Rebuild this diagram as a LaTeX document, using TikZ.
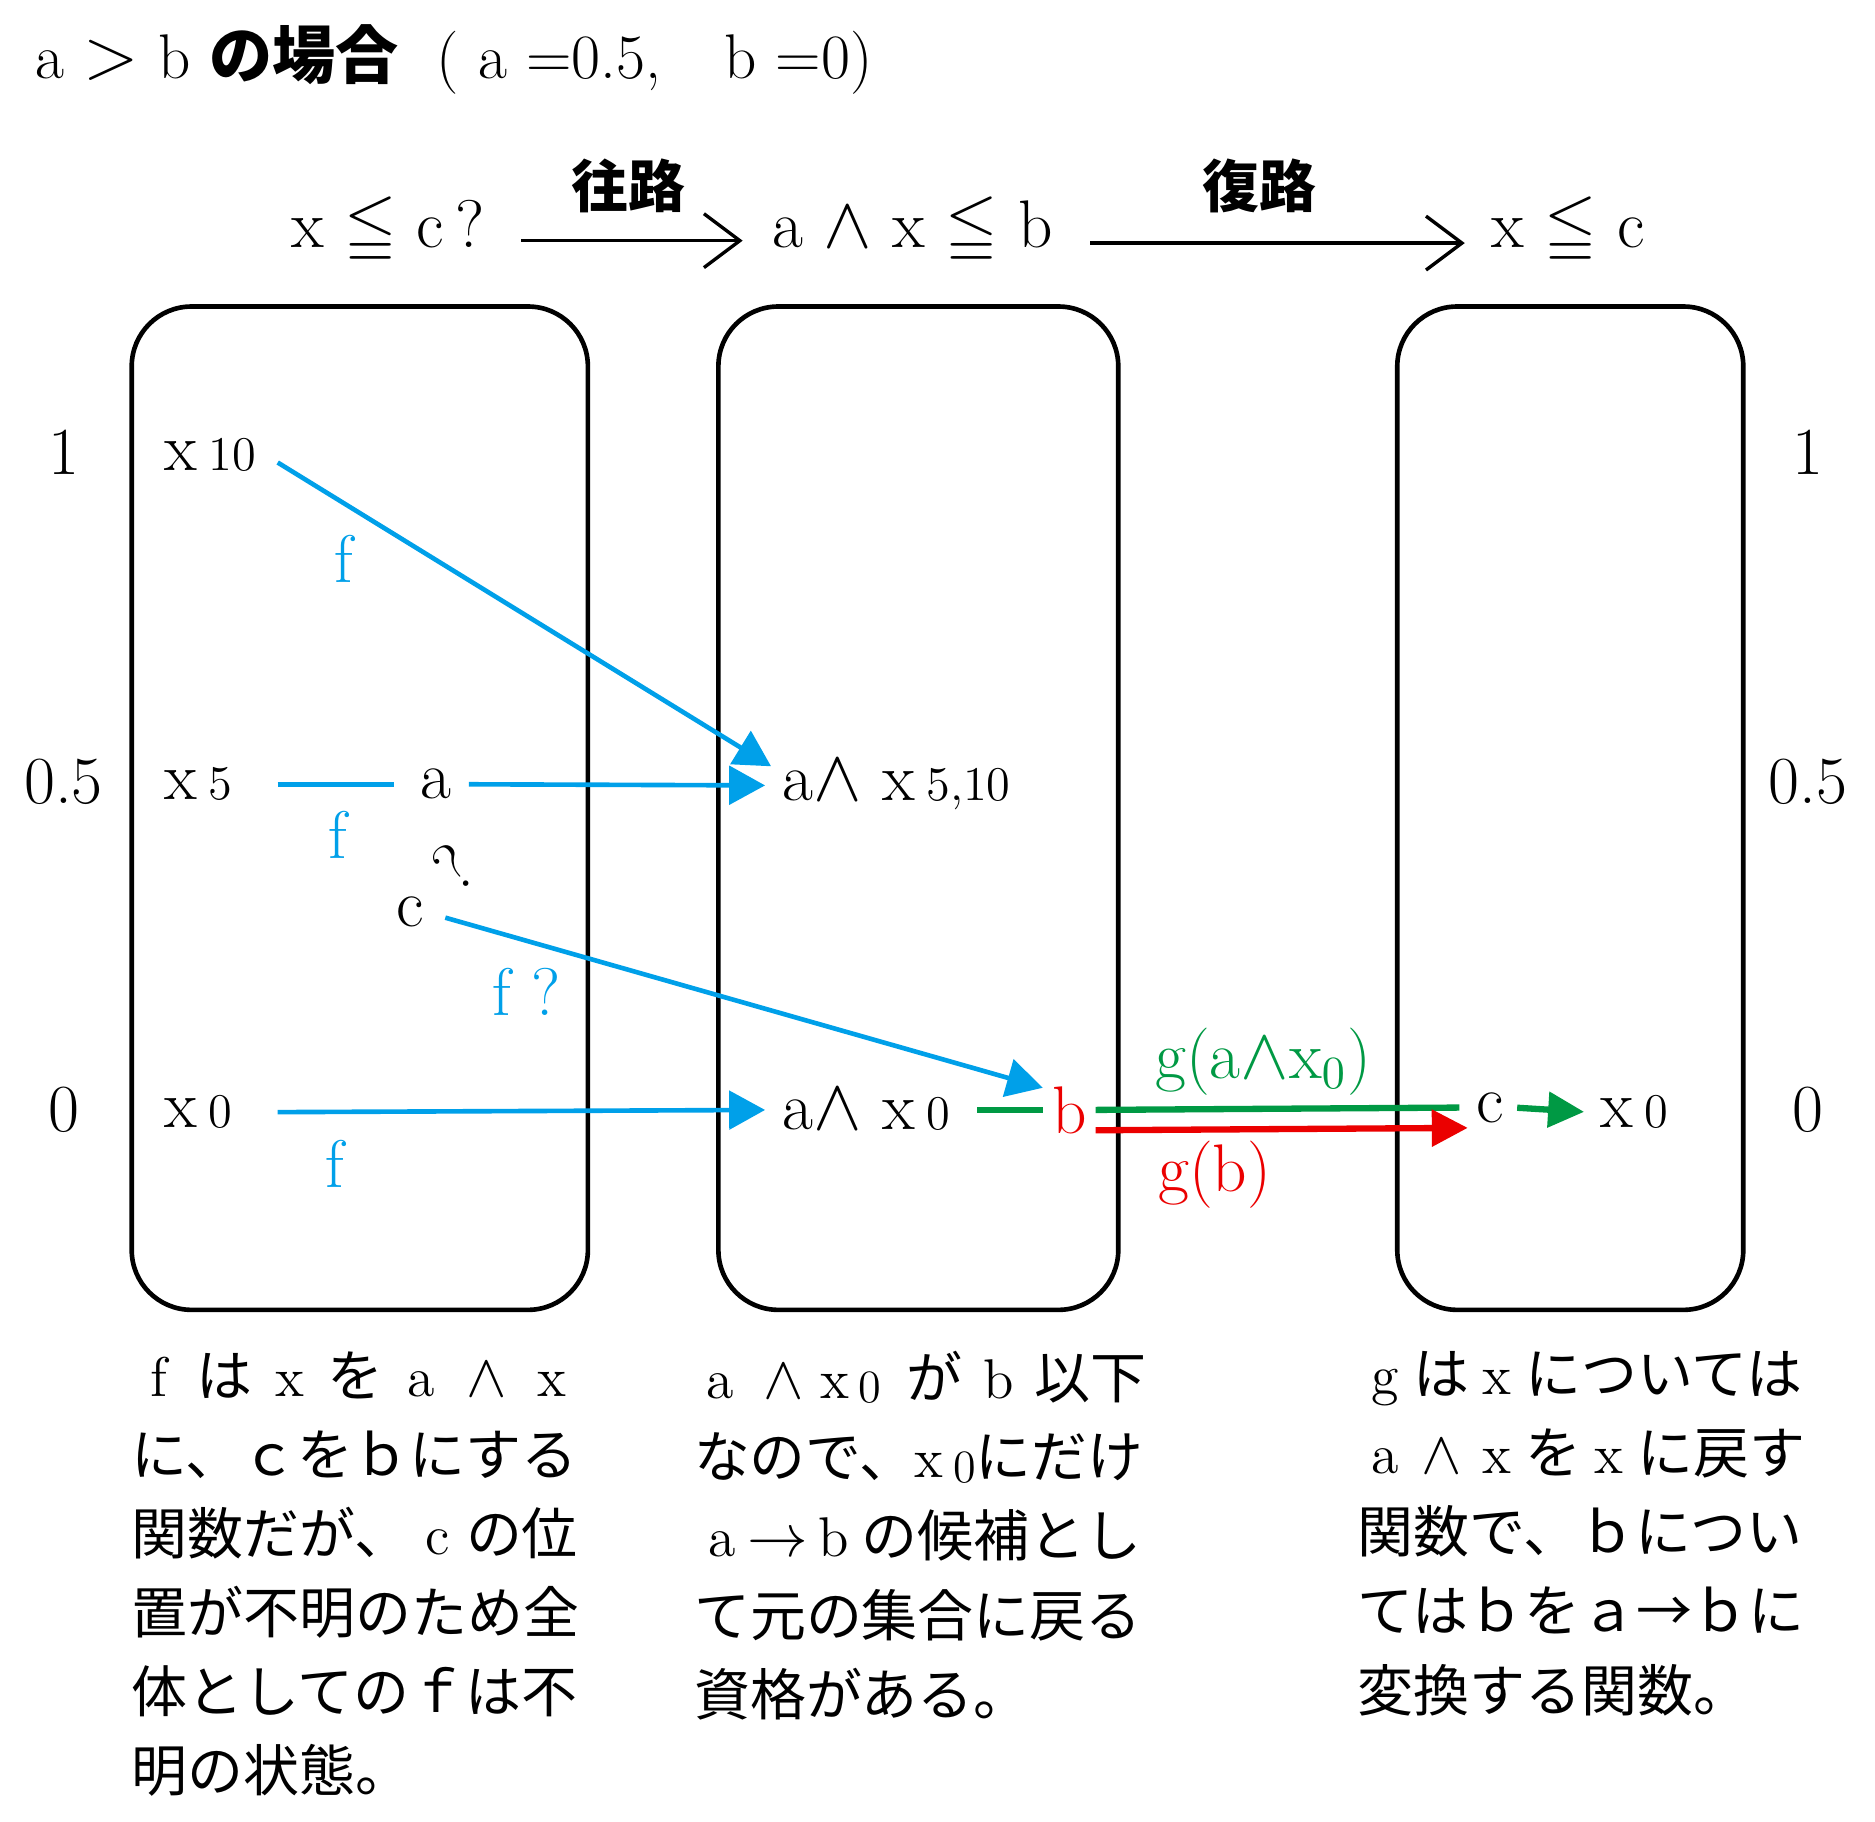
\documentclass[tikz,border=0pt]{standalone}
\usepackage{amssymb}
\usepackage{graphicx}
\usepackage{fontspec}
\newfontfamily\jp{Noto Sans CJK JP}
\usetikzlibrary{arrows.meta,positioning}
\definecolor{fblue}{RGB}{0,160,233}
\definecolor{ggreen}{RGB}{0,153,68}
\definecolor{gred}{RGB}{235,0,0}
\newcommand\lab{\fontsize{16}{19}\selectfont}
\newcommand\sub[1]{{\fontsize{11.5}{14}\selectfont #1}}
\newcommand\jl[2][3.75cm]{\makebox[#1][s]{#2}}
\newcommand\cel[1]{\makebox[1em]{\rmfamily #1}}
\newcommand\zer{\raisebox{-1pt}{\rmfamily\fontsize{11}{12}\selectfont 0}}

\begin{document}
\begin{tikzpicture}[
  setbox/.style={draw, line width=1.1pt, rounded corners=0.5cm},
  lab/.style={font=\lab, inner sep=2pt},
  fmap/.style={draw=fblue, line width=1.1pt, -{Triangle[length=0.3cm,width=0.32cm]}},
  route/.style={draw, line width=0.8pt, -{Straight Barb[length=0.3cm,width=0.45cm]}},
  note/.style={font=\jp\fontsize{13.3}{18.8}\selectfont, align=left, inner sep=0pt, anchor=north west}
]
  \path[use as bounding box, fill=white] (0,0) rectangle (15.66,-15.21);

  % title
  \node[lab, anchor=west, font=\fontsize{15}{18}\selectfont] (title) at (0.22,-0.50)
    {a\ \scalebox{1.2}{$>$}\ b\ {\jp\bfseries の場合}\ \ (\ a\ =0.5,\quad b\ =0)};

  % conditions and routes
  \node[lab] (q1) at (3.24,-1.93) {x\ $\leqq$\ c\,?};
  \node[lab] (q2) at (7.62,-1.93) {a\ $\wedge$\ x\ $\leqq$\ b};
  \node[lab] (q3) at (13.10,-1.93) {x\ $\leqq$\ c};
  \draw[route, shorten <=0.23cm, shorten >=0.17cm] ([yshift=-0.08cm]q1.east) -- ([yshift=-0.08cm]q2.west)
    node[midway, above=0.1cm, font=\jp\bfseries\fontsize{13.5}{16}\selectfont] (go) {往路};
  \draw[route, shorten <=0.24cm, shorten >=0.15cm] ([yshift=-0.1cm]q2.east) -- ([yshift=-0.1cm]q3.west)
    node[pos=0.47, above=0.12cm, font=\jp\bfseries\fontsize{13.5}{16}\selectfont] (back) {復路};

  % sets
  \draw[setbox] (1.10,-2.56) rectangle (4.91,-10.94);
  \draw[setbox] (6.00,-2.56) rectangle (9.34,-10.94);
  \draw[setbox] (11.67,-2.56) rectangle (14.56,-10.94);

  % levels
  \foreach \y/\v [count=\i] in {-3.78/1, -6.53/0.5, -9.27/0} {
    \node[lab] (lv\i) at (0.53,\y) {\v};
    \node[lab] (rv\i) at (15.10,\y) {\v};
  }

  % first set
  \node[lab, anchor=west] (x10) at (1.30,-3.80) {x\,\sub{10}};
  \node[lab, anchor=west] (x5) at (1.30,-6.55) {x\,\sub{5}};
  \node[lab] (a) at (3.64,-6.55) {a};
  \node[lab, inner sep=0pt] (c) at (3.425,-7.615) {c};
  \node[lab, inner sep=0pt, rotate=40] (cq) at (3.79,-7.24) {?};
  \node[lab, anchor=west] (x0) at (1.30,-9.29) {x\,\sub{0}};
  \node[lab, text=fblue] (f1) at (2.87,-4.67) {f};
  \node[lab, text=fblue] (f2) at (2.82,-6.97) {f};
  \node[lab, text=fblue] (f3) at (4.40,-8.28) {f\ ?};
  \node[lab, text=fblue] (f4) at (2.80,-9.72) {f};

  % second set
  \node[lab, anchor=west] (ax510) at (6.46,-6.56) {a$\wedge$\ x\,\sub{5,10}};
  \node[lab, anchor=west] (ax0) at (6.46,-9.27) {a$\wedge$\ x\,\sub{0}};
  \node[lab, text=gred] (b) at (8.93,-9.27) {b};

  % third set
  \node[lab] (c3) at (12.45,-9.25) {c};
  \node[lab, anchor=west] (x03) at (13.29,-9.29) {x\,\sub{0}};

  % f
  \draw[fmap, shorten <=0.12cm] (x10.east) -- ([shift={(-0.02,0.16)}]ax510.west);
  \draw[draw=fblue, line width=1.1pt, shorten <=0.3cm, shorten >=0.14cm] (x5.east) -- (a.west);
  \draw[fmap, shorten <=0.07cm, shorten >=0.07cm] (a.east) -- (ax510.west);
  \draw[fmap, shorten <=0.18cm] (c.east) -- ([yshift=-0.09cm]b.north west);
  \draw[fmap, shorten <=0.3cm, shorten >=0.07cm] (x0.east) -- (ax0.west);

  % g
  \draw[draw=ggreen, line width=1.5pt, shorten <=0.15cm] (ax0.east) -- (b.west);
  \draw[draw=ggreen, line width=1.5pt, shorten >=0.07cm] (b.east) -- (c3.west)
    node[pos=0.45, above=0.02cm, lab, text=ggreen] (ga) {g(a$\wedge$x$_0$)};
  \draw[draw=gred, line width=1.5pt, -{Triangle[length=0.3cm,width=0.3cm]}] ([yshift=-0.17cm]b.east) -- ([yshift=-0.17cm]c3.west)
    node[pos=0.32, below=0cm, lab, text=gred] (gb) {g(b)};
  \draw[draw=ggreen, line width=1.5pt, -{Triangle[length=0.3cm,width=0.29cm]}, shorten <=0.03cm, shorten >=0.06cm] (c3.east) -- (x03.west);

  % notes
  \node[note] (n1) at (1.09,-11.28) {%
    \jl{\cel{f} は \cel{x} を \cel{a} \cel{$\wedge$} \cel{x}}\\
    \jl{に、ｃをｂにする}\\
    \jl{関数だが、\cel{c}の位}\\
    \jl{置が不明のため全}\\
    \jl{体としてのｆは不}\\
    明の状態。};
  \node[note] (n2) at (5.79,-11.28) {%
    \jl{\kern3pt\textrm{a}\hspace{7pt}$\wedge$\hspace{4pt}\textrm{x}\kern2pt\zer\hspace{6pt}が\hspace{5pt}\textrm{b}\hspace{5pt}以下}\\
    \resizebox{3.75cm}{\height}{なので、\textrm{x}\,\zer にだけ}\\
    \jl{\cel{a}\cel{$\to$}\cel{b}の候補とし}\\
    \jl{て元の集合に戻る}\\
    資格がある。};
  \node[note] (n3) at (11.33,-11.28) {%
    \jl{\cel{g}は\cel{x}については}\\
    \jl{\cel{a}\cel{$\wedge$}\cel{x}を\cel{x}に戻す}\\
    \jl{関数で、ｂについ}\\
    \jl{てはｂをａ→ｂに}\\
    変換する関数。};
\end{tikzpicture}
\end{document}
